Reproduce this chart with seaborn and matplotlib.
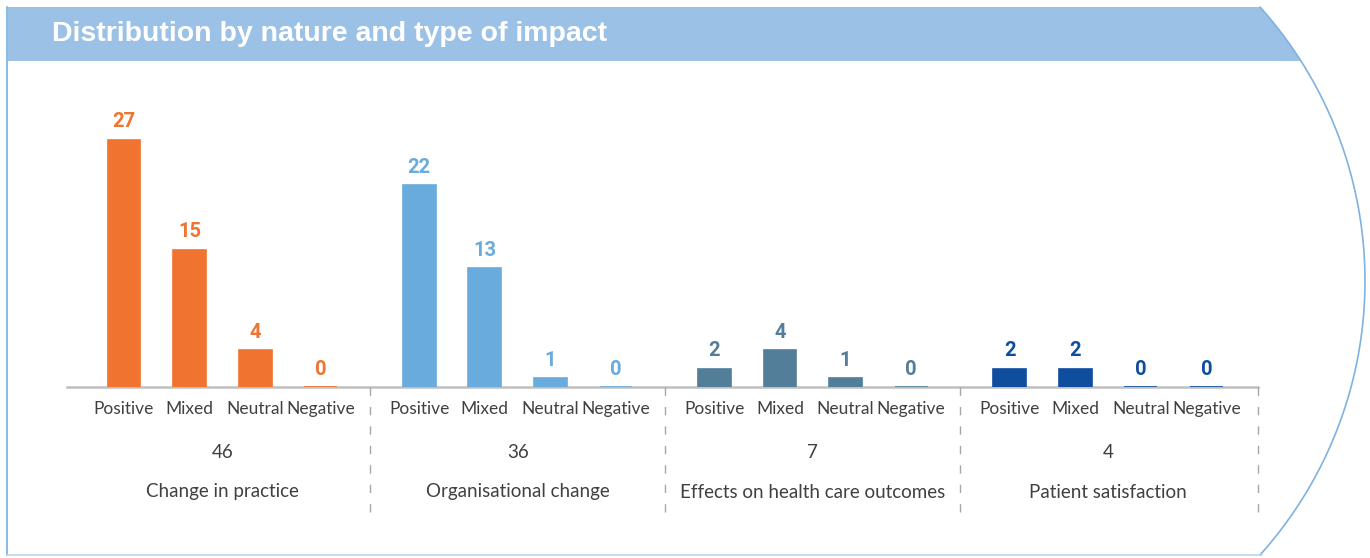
import numpy as np
import pandas as pd
import matplotlib
matplotlib.use("Agg")
import matplotlib.pyplot as plt
import seaborn as sns

groups = ["Change in practice", "Organisational change",
          "Effects on health care outcomes", "Patient satisfaction"]
totals = [46, 36, 7, 4]
natures = ["Positive", "Mixed", "Neutral", "Negative"]
change_in_practice = [27, 15, 4, 0]
organisational_change = [22, 13, 1, 0]
health_care_outcomes = [2, 4, 1, 0]
patient_satisfaction = [2, 2, 0, 0]
colors = ["#F07430", "#6AABDD", "#527E9A", "#0F4E9E"]

series = [change_in_practice, organisational_change,
          health_care_outcomes, patient_satisfaction]
rows = []
for g, (name, vals) in enumerate(zip(groups, series)):
    for i, (nat, v) in enumerate(zip(natures, vals)):
        rows.append({"group": name, "nature": nat, "value": v,
                     "pos": g * 4.5 + i})
df = pd.DataFrame(rows)

sns.set_style("white")
plt.rcParams["font.family"] = ["Lato", "DejaVu Sans"]

W, H = 1370, 558
fig = plt.figure(figsize=(W / 100, H / 100), dpi=100)

# frame / header drawn in pixel coordinates
bg = fig.add_axes([0, 0, 1, 1])
bg.set_xlim(0, W)
bg.set_ylim(H, 0)
bg.axis("off")
cx, cy, r = 955, 281, 410
ys = np.linspace(7, 61, 30)
xs = cx + np.sqrt(r ** 2 - (ys - cy) ** 2)
band_x = [7] + list(xs) + [7]
band_y = [7] + list(ys) + [61]
bg.fill(band_x, band_y, color="#9BC2E6", lw=0)
ya = np.linspace(7, 555, 300)
bg.plot(cx + np.sqrt(np.clip(r ** 2 - (ya - cy) ** 2, 0, None)), ya,
        color="#7FB2E0", lw=1.2)
bg.plot([7, 7], [7, 555], color="#8DBBE3", lw=1.5)
bg.plot([7, 1262], [555, 555], color="#BCD6EE", lw=1.2)
bg.text(52, 34, "Distribution by nature and type of impact", color="white",
        fontsize=20.5, fontweight="bold", va="center", ha="left",
        family=["Liberation Sans", "DejaVu Sans"])

# chart
unit = 65.6
x0 = 124
left_px, right_px, base_px = 67, 1258, 387
ax = fig.add_axes([left_px / W, (H - base_px) / H,
                   (right_px - left_px) / W, 275 / H])
ax.patch.set_alpha(0)
sns.barplot(data=df, x="pos", y="value", hue="group", palette=colors,
            native_scale=True, dodge=False, width=0.5, legend=False,
            saturation=1, ax=ax)
ax.set_xlim((left_px - x0) / unit, (right_px - x0) / unit)
ax.set_ylim(0, 30)
for c, col in zip(ax.containers, colors):
    for p in c.patches:
        p.set_edgecolor(col)
        p.set_linewidth(1.2)
    ax.bar_label(c, padding=6, color=col, fontsize=14.5, fontweight="semibold",
                 family=["Roboto", "DejaVu Sans"])
for s in ["top", "right", "left"]:
    ax.spines[s].set_visible(False)
ax.spines["bottom"].set_color("#BFBFBF")
ax.spines["bottom"].set_linewidth(1.8)
ax.spines["bottom"].set_zorder(0)
ax.set_yticks([])
ax.set_xticks(df["pos"])
ax.set_xticklabels(df["nature"], fontsize=12.5, color="#404040")
ax.tick_params(axis="x", length=0, pad=10)
ax.set_xlabel("")
ax.set_ylabel("")

# group totals, names and dividers
trans = ax.get_xaxis_transform()
for g, (name, tot) in enumerate(zip(groups, totals)):
    mid = g * 4.5 + 1.5
    ax.text(mid, -(452 - base_px) / 275, str(tot), transform=trans,
            ha="center", va="center", fontsize=13.5, color="#404040")
    ax.text(mid, -(492 - base_px) / 275, name, transform=trans,
            ha="center", va="center", fontsize=13.5, color="#404040")
    if g > 0:
        xd = g * 4.5 - 0.75
        ax.plot([xd, xd], [0, -(515 - base_px) / 275], transform=trans,
                color="#A6A6A6", lw=1, ls=(0, (6, 8)), clip_on=False)
xd = (right_px - x0) / unit
ax.plot([xd, xd], [0, -(515 - base_px) / 275], transform=trans,
        color="#A6A6A6", lw=1, ls=(0, (6, 8)), clip_on=False)

fig.savefig("out.png", dpi=100)
